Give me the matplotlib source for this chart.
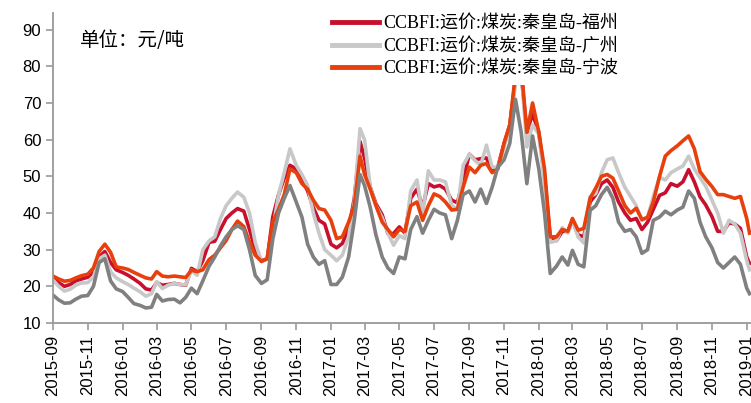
import datetime as dt
import matplotlib
matplotlib.use("Agg")
import matplotlib.pyplot as plt
import matplotlib.dates as mdates

# sampling dates: 1st / 11th / 21st of each month, then early Jan 2019
months = [(2015 + (8 + i) // 12, (8 + i) % 12 + 1) for i in range(40)]
dates = [dt.date(y, m, d) for (y, m) in months for d in (1, 11, 21)]
dates += [dt.date(2019, 1, 1), dt.date(2019, 1, 6)]

# 秦皇岛-福州
fuzhou = [22.2, 21.0, 20.0, 20.5, 21.5, 22.0, 22.5, 24.0, 28.0, 29.5,
          26.5, 24.5, 23.8, 23.0, 22.0, 20.8, 19.3, 19.0, 21.0, 20.3,
          20.5, 20.8, 20.5, 20.3, 24.9, 24.0, 27.0, 32.0, 32.3, 35.5,
          38.5, 40.0, 41.2, 40.5, 35.5, 30.0, 27.0, 27.5, 39.0, 45.0,
          49.5, 53.0, 52.0, 49.4, 46.0, 41.5, 38.0, 37.0, 31.5, 30.5,
          31.7, 35.5, 44.0, 59.5, 55.0, 47.0, 42.5, 39.5, 34.4, 34.4,
          36.2, 34.5, 44.0, 46.5, 41.6, 48.0, 47.1, 47.5, 46.5, 43.5,
          42.8, 49.0, 56.0, 54.5, 54.8, 55.0, 51.6, 52.5, 59.0, 64.0,
          76.5, 78.0, 62.0, 67.0, 62.0, 50.0, 33.5, 32.5, 35.0, 35.0,
          38.0, 34.0, 33.5, 43.0, 45.0, 48.0, 49.0, 47.0, 43.0, 40.0,
          38.0, 38.5, 35.5, 37.5, 41.0, 44.8, 45.5, 48.0, 47.3, 48.5,
          51.8, 48.5, 44.4, 42.2, 39.0, 35.0, 35.0, 37.3, 37.0, 35.8,
          28.0, 26.2]

# 秦皇岛-广州
guangzhou = [21.7, 20.0, 18.7, 19.2, 20.3, 20.9, 21.0, 22.5, 27.5, 28.5,
             24.0, 22.3, 21.3, 20.5, 19.5, 18.5, 17.3, 18.0, 21.3, 19.4,
             20.3, 20.8, 20.5, 20.4, 24.4, 23.0, 30.0, 32.4, 33.5, 38.5,
             42.0, 44.0, 45.7, 44.3, 40.0, 32.0, 26.7, 27.5, 35.5, 45.0,
             51.0, 57.5, 53.0, 50.5, 47.5, 40.0, 34.5, 30.0, 28.5, 27.0,
             28.5, 33.5, 43.0, 63.0, 60.0, 47.0, 42.0, 38.7, 34.5, 31.2,
             33.8, 33.0, 46.0, 49.0, 39.5, 51.5, 49.0, 49.0, 48.5, 42.0,
             41.0, 53.0, 56.0, 54.3, 53.0, 58.5, 52.5, 52.5, 58.0, 64.0,
             75.0, 79.0, 58.0, 64.0, 61.5, 48.0, 32.0, 32.4, 36.0, 34.5,
             38.0, 33.5, 31.8, 44.5, 45.3, 51.0, 54.5, 55.0, 51.0, 47.0,
             44.5, 42.0, 38.0, 38.9, 44.5, 49.8, 49.0, 51.0, 52.0, 52.8,
             55.5, 52.0, 49.6, 47.3, 43.5, 40.0, 34.5, 38.0, 37.0, 34.5,
             27.0, 24.5]

# 秦皇岛-宁波
ningbo = [22.8, 22.0, 21.4, 21.6, 22.3, 22.9, 23.3, 25.0, 29.5, 31.5,
          29.3, 25.3, 25.0, 24.6, 23.8, 23.0, 22.3, 22.0, 24.0, 22.8,
          22.6, 22.8, 22.6, 22.4, 24.4, 24.0, 24.5, 27.3, 28.5, 30.5,
          32.5, 35.5, 37.8, 36.3, 32.0, 28.5, 26.8, 27.5, 37.5, 41.0,
          45.0, 52.0, 51.0, 48.0, 46.5, 43.5, 41.2, 40.8, 38.0, 33.0,
          33.5, 37.5, 42.0, 55.5, 50.5, 46.5, 42.0, 37.5, 35.5, 33.5,
          35.5, 35.0, 42.0, 43.0, 38.0, 42.0, 45.2, 44.5, 43.0, 40.8,
          41.0, 47.0, 52.5, 51.0, 53.0, 53.5, 51.0, 52.0, 59.0, 64.0,
          78.0, 80.0, 62.0, 70.0, 62.0, 52.0, 33.5, 33.5, 35.5, 35.0,
          38.5, 35.3, 35.8, 44.0, 46.8, 50.0, 50.5, 49.5, 46.0, 42.0,
          40.0, 41.3, 38.2, 38.8, 43.0, 50.0, 55.5, 57.0, 58.3, 59.7,
          61.0, 57.5, 51.3, 49.2, 47.2, 45.0, 45.0, 44.5, 44.0, 44.5,
          38.5, 34.5]

# 第四条线（图例中未列出）
other = [17.6, 16.3, 15.4, 15.5, 16.5, 17.3, 17.5, 20.0, 26.5, 27.5,
         21.5, 19.3, 18.6, 17.0, 15.3, 14.8, 14.1, 14.3, 17.8, 16.0,
         16.4, 16.5, 15.5, 17.0, 19.5, 18.0, 21.5, 25.5, 28.0, 31.0,
         33.5, 35.5, 36.5, 35.5, 30.0, 23.0, 20.8, 21.8, 33.0, 40.0,
         44.0, 47.5, 43.0, 38.9, 31.5, 28.0, 26.0, 27.0, 20.5, 20.5,
         22.5, 28.0, 38.0, 50.5, 47.5, 41.5, 34.0, 28.0, 25.0, 23.5,
         28.0, 27.5, 35.5, 39.0, 34.5, 38.0, 41.0, 40.0, 39.5, 33.0,
         38.0, 45.0, 46.0, 43.0, 46.5, 42.6, 47.0, 52.5, 54.5, 59.0,
         71.0, 62.0, 48.0, 61.0, 52.0, 40.0, 23.5, 25.5, 28.0, 25.8,
         29.8, 26.0, 25.3, 40.7, 42.0, 45.0, 47.0, 44.0, 37.5, 35.0,
         35.5, 33.5, 29.0, 30.0, 38.0, 38.9, 40.5, 39.5, 40.8, 41.6,
         46.0, 44.0, 37.5, 33.5, 30.5, 26.5, 25.0, 26.5, 28.0, 26.0,
         19.5, 18.0]

labels = ["CCBFI:运价:煤炭:秦皇岛-福州",
          "CCBFI:运价:煤炭:秦皇岛-广州",
          "CCBFI:运价:煤炭:秦皇岛-宁波"]

fam = ["Liberation Serif", "Noto Sans CJK SC"]

fig = plt.figure(figsize=(7.51, 4.03), dpi=100)
ax = fig.add_axes([0.0706, 0.1985, 0.929, 0.769])

lw = 2.6
ax.plot(dates, fuzhou, color="#C8102E", lw=lw, label=labels[0])
ax.plot(dates, guangzhou, color="#C8C8C8", lw=lw, label=labels[1])
ax.plot(dates, ningbo, color="#E8400C", lw=lw, label=labels[2])
ax.plot(dates, other, color="#808080", lw=lw)

ax.set_ylim(10, 94.5)
ax.set_yticks(range(10, 100, 10))
ax.set_xlim(dt.date(2015, 9, 1), dt.date(2019, 1, 8))
ax.xaxis.set_major_locator(mdates.MonthLocator(bymonth=[1, 3, 5, 7, 9, 11]))
ax.xaxis.set_major_formatter(mdates.DateFormatter("%Y-%m"))

for s in ("top", "right"):
    ax.spines[s].set_visible(False)
for s in ("left", "bottom"):
    ax.spines[s].set_color("#999999")
    ax.spines[s].set_linewidth(1.3)
ax.tick_params(axis="both", colors="#999999", length=5, width=1.2,
               labelcolor="black", labelsize=12)
for t in ax.get_xticklabels() + ax.get_yticklabels():
    t.set_family("Liberation Sans")
for t in ax.get_xticklabels():
    t.set_rotation(90)

ax.text(0.039, 0.91, "单位：元/吨", transform=ax.transAxes, fontsize=14,
        family=["Noto Sans CJK SC", "DejaVu Sans"], va="center", ha="left")

leg = ax.legend(loc="upper left", bbox_to_anchor=(0.431, 0.982),
                bbox_transform=fig.transFigure, borderaxespad=0,
                borderpad=0.45, handlelength=2.6, handletextpad=0.25,
                labelspacing=0.28, frameon=True, fancybox=False,
                prop={"family": fam, "size": 13})
leg.get_frame().set_facecolor("white")
leg.get_frame().set_edgecolor("none")
leg.get_frame().set_alpha(1)
for h in leg.get_lines():
    h.set_linewidth(3.5)

fig.savefig("out.png", dpi=100)
